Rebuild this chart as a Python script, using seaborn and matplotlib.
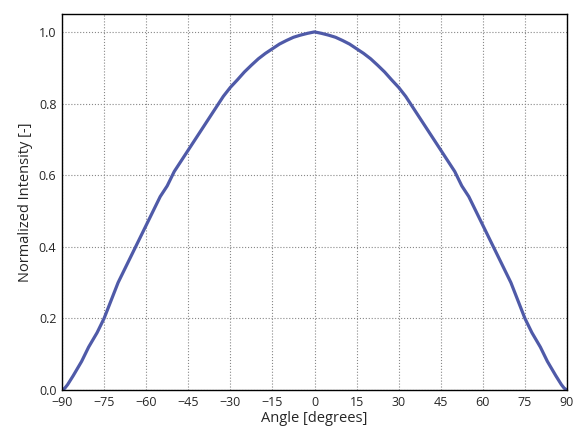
import numpy as np
import matplotlib
matplotlib.use("Agg")
import matplotlib.pyplot as plt
import seaborn as sns

# values
half = [0.0, 0.005, 0.015, 0.04, 0.08, 0.12, 0.16, 0.20, 0.25, 0.30, 0.34, 0.38, 0.42,
        0.46, 0.50, 0.54, 0.57, 0.61, 0.64, 0.67, 0.70, 0.73, 0.76, 0.79, 0.82, 0.845,
        0.866, 0.888, 0.907, 0.925, 0.94, 0.953, 0.966, 0.976, 0.985, 0.991, 0.996, 0.999]
half_angles = [-90, -89, -88, -86, -83, -80.5, -77.5, -75, -72.5, -70, -67.5, -65, -62.5,
               -60, -57.5, -55, -52.5, -50, -47.5, -45, -42.5, -40, -37.5, -35, -32.5, -30,
               -27.5, -25, -22.5, -20, -17.5, -15, -12.5, -10, -7.5, -5, -2.5]
half = half[:len(half_angles)]
angles = half_angles + [0] + [-a for a in half_angles[::-1]]
intensity = half + [1.0] + half[::-1]
xticks = list(range(-90, 91, 15))
yticks = [0.0, 0.2, 0.4, 0.6, 0.8, 1.0]

sns.set_style("white")
plt.rcParams["font.family"] = ["Open Sans", "DejaVu Sans"]

fig = plt.figure(figsize=(5.81, 4.36), dpi=100)
ax = fig.add_axes([62 / 581, 46 / 436, 505 / 581, 376 / 436])
sns.lineplot(x=angles, y=intensity, ax=ax, color="#4f5aa8", linewidth=2.3)
ax.set_xlim(-90, 90)
ax.set_ylim(0, 1.05)
ax.set_xticks(xticks)
ax.set_yticks(yticks)
ax.set_yticklabels([f"{v:.1f}" for v in yticks])
ax.grid(True, linestyle=":", color="#888888", linewidth=0.8)
for s in ax.spines.values():
    s.set_color("black")
    s.set_linewidth(1.0)
ax.tick_params(labelsize=9, length=0, pad=4)
ax.set_xlabel("Angle [degrees]", fontsize=10.5, labelpad=2)
ax.set_ylabel("Normalized Intensity [-]", fontsize=10.5)
fig.savefig("out.png", dpi=100)
plt.close(fig)
